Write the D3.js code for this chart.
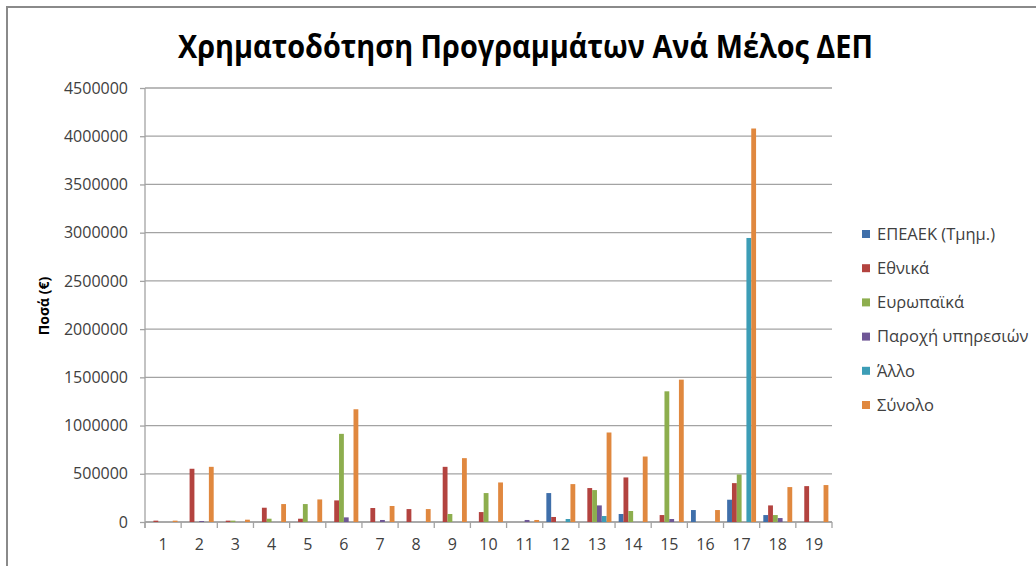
<!DOCTYPE html>
<html>
<head>
<meta charset="utf-8">
<script src="https://cdn.jsdelivr.net/npm/d3@7"></script>
<style>
  html, body { margin: 0; padding: 0; background: #fff; }
  svg { display: block; }
  text { font-family: "Open Sans", "Noto Sans", sans-serif; }
</style>
</head>
<body>
<svg id="chart" width="1036" height="566"></svg>
<script>
// ---- DATA ----
const categories = ["1","2","3","4","5","6","7","8","9","10","11","12","13","14","15","16","17","18","19"];
const seriesNames = ["ΕΠΕΑΕΚ (Τμημ.)", "Εθνικά", "Ευρωπαϊκά", "Παροχή υπηρεσιών", "Άλλο", "Σύνολο"];
const epeaek    = [0, 0, 0, 0, 0, 0, 0, 0, 0, 0, 0, 300000, 0, 83000, 0, 124000, 231000, 72000, 0];
const ethnika   = [14000, 552000, 14000, 148000, 34000, 224000, 145000, 134000, 572000, 103000, 0, 52000, 352000, 462000, 72000, 0, 403000, 172000, 372000];
const europaika = [0, 0, 14000, 34000, 186000, 914000, 0, 0, 83000, 300000, 0, 0, 331000, 114000, 1355000, 0, 493000, 72000, 0];
const paroxi    = [0, 10000, 0, 0, 0, 48000, 21000, 0, 0, 0, 21000, 0, 172000, 0, 31000, 0, 0, 41000, 0];
const allo      = [0, 0, 0, 0, 0, 0, 0, 0, 0, 0, 0, 31000, 62000, 0, 0, 0, 2945000, 0, 0];
const synolo    = [14000, 572000, 24000, 186000, 234000, 1169000, 166000, 134000, 662000, 410000, 21000, 393000, 928000, 679000, 1476000, 124000, 4080000, 362000, 383000];
const yTicks = [0, 500000, 1000000, 1500000, 2000000, 2500000, 3000000, 3500000, 4000000, 4500000];
const titleText = "Χρηματοδότηση Προγραμμάτων Ανά Μέλος ΔΕΠ";
const yTitle = "Ποσά (€)";

const seriesValues = [epeaek, ethnika, europaika, paroxi, allo, synolo];
const colors = ["#3F6FAA", "#B3433F", "#8DAE4E", "#6F5796", "#3C9DB6", "#E0883F"];

// ---- LAYOUT ----
const svg = d3.select("#chart");
const plotL = 145, plotR = 832, plotT = 88, plotB = 522;

// frame
svg.append("rect").attr("x", 7).attr("y", 7).attr("width", 1040).attr("height", 570)
  .attr("fill", "none").attr("stroke", "#8a8a8a").attr("stroke-width", 2);

const x0 = d3.scaleBand().domain(categories).range([plotL, plotR]).paddingInner(0.2).paddingOuter(0.1);
const x1 = d3.scaleBand().domain(d3.range(seriesNames.length)).range([0, x0.bandwidth()]);
const y = d3.scaleLinear().domain([0, 4500000]).range([plotB, plotT]);

// gridlines
svg.append("g").selectAll("line").data(yTicks).join("line")
  .attr("x1", plotL).attr("x2", plotR)
  .attr("y1", d => y(d)).attr("y2", d => y(d))
  .attr("stroke", "#a3a3a3").attr("stroke-width", 1.3);

// y axis
const yAxis = svg.append("g").attr("transform", `translate(${plotL},0)`)
  .call(d3.axisLeft(y).tickValues(yTicks).tickFormat(d3.format("d")).tickSizeOuter(0).tickSize(5).tickPadding(12));
yAxis.select(".domain").attr("stroke", "#a3a3a3").attr("stroke-width", 1.3)
  .attr("d", `M0,${plotT}V${plotB + 6}`);
yAxis.selectAll(".tick line").attr("stroke", "#a3a3a3").attr("stroke-width", 1.3);
yAxis.selectAll(".tick text").attr("font-size", 16).attr("fill", "#404040")
  .attr("font-family", "'Open Sans', sans-serif");

// x axis
const xAxis = svg.append("g").attr("transform", `translate(0,${plotB})`)
  .call(d3.axisBottom(x0).tickSize(0).tickPadding(17));
xAxis.select(".domain").attr("stroke", "#a3a3a3").attr("stroke-width", 1.3)
  .attr("d", `M${plotL},0H${plotR}`);
xAxis.selectAll(".tick text").attr("font-size", 16).attr("fill", "#404040")
  .attr("font-family", "'Open Sans', sans-serif");
// boundary ticks
const step = x0.step();
const bounds = d3.range(categories.length + 1).map(i => (i < categories.length ? x0(categories[i]) : x0(categories[i - 1]) + step) - step * x0.paddingOuter());
svg.append("g").selectAll("line").data(bounds).join("line")
  .attr("x1", d => d).attr("x2", d => d)
  .attr("y1", plotB).attr("y2", plotB + 6)
  .attr("stroke", "#a3a3a3").attr("stroke-width", 1.3);

// bars
const groups = svg.append("g").selectAll("g").data(categories).join("g")
  .attr("transform", c => `translate(${x0(c)},0)`);
groups.selectAll("rect")
  .data((c, i) => seriesValues.map((arr, s) => ({ s, v: arr[i] })))
  .join("rect")
  .attr("x", d => x1(d.s))
  .attr("width", x1.bandwidth())
  .attr("y", d => y(d.v))
  .attr("height", d => y(0) - y(d.v))
  .attr("fill", d => colors[d.s]);

// title
svg.append("text").attr("x", 525.5).attr("y", 58).attr("text-anchor", "middle")
  .attr("font-size", 32).attr("font-weight", "bold").attr("fill", "#000")
  .attr("textLength", 695).attr("lengthAdjust", "spacingAndGlyphs")
  .text(titleText);

// y title
svg.append("text").attr("transform", "translate(49,306) rotate(-90)")
  .attr("text-anchor", "middle").attr("font-size", 14).attr("font-weight", "bold").attr("fill", "#000")
  .text(yTitle);

// legend
const legend = svg.append("g").selectAll("g").data(seriesNames).join("g")
  .attr("transform", (d, i) => `translate(862,${234 + i * 34.2})`);
legend.append("rect").attr("x", 0).attr("y", -4).attr("width", 8).attr("height", 8)
  .attr("fill", (d, i) => colors[i]);
legend.append("text").attr("x", 15).attr("y", 0).attr("dy", "0.35em")
  .attr("font-size", 16.5).attr("fill", "#404040").text(d => d);
</script>
</body>
</html>
